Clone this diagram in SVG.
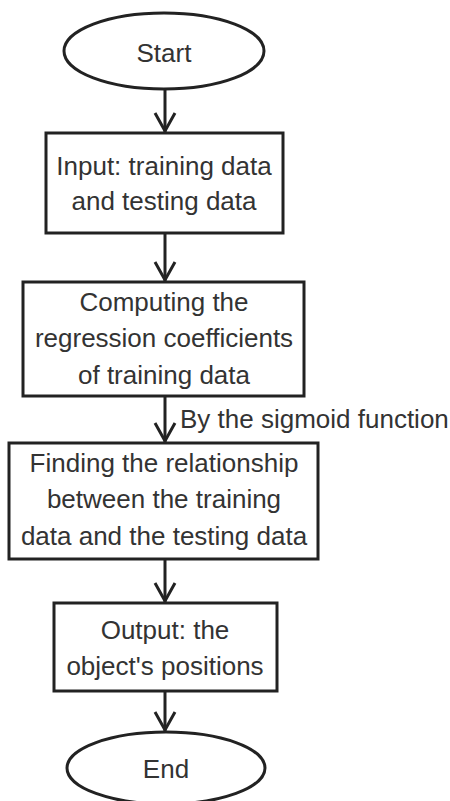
<svg xmlns="http://www.w3.org/2000/svg" width="450" height="801" viewBox="0 0 450 801">
<defs>
<style>
.n{fill:#fff;stroke:#222;stroke-width:3}
.t{font-family:"Liberation Sans",Arial,sans-serif;font-size:26px;fill:#333;text-anchor:middle}
.l{font-family:"Liberation Sans",Arial,sans-serif;font-size:26px;fill:#333}
.c{stroke:#222;stroke-width:3;fill:none}
</style>
</defs>
<rect width="450" height="801" fill="#fff"/>
<g id="connectors">
<path class="c" d="M165,89 V132"/>
<path class="c" d="M155,113 L165,131 L175,113"/>
<path class="c" d="M165,233 V281"/>
<path class="c" d="M155,262 L165,280 L175,262"/>
<path class="c" d="M165,396 V442"/>
<path class="c" d="M155,423 L165,441 L175,423"/>
<path class="c" d="M165,559 V602"/>
<path class="c" d="M155,583 L165,601 L175,583"/>
<path class="c" d="M165,691 V731"/>
<path class="c" d="M155,712 L165,730 L175,712"/>
<text class="l" x="180" y="428">By the sigmoid function</text>
</g>
<g id="start">
<ellipse class="n" cx="164" cy="51" rx="100" ry="38"/>
<text class="t" x="164" y="62">Start</text>
</g>
<g id="input">
<rect class="n" x="46" y="133" width="237" height="100"/>
<text class="t" x="164" y="175">Input: training data</text>
<text class="t" x="164" y="210">and testing data</text>
</g>
<g id="compute">
<rect class="n" x="23" y="282" width="281" height="114"/>
<text class="t" x="164" y="311">Computing the</text>
<text class="t" x="164" y="347">regression coefficients</text>
<text class="t" x="164" y="384">of training data</text>
</g>
<g id="find">
<rect class="n" x="9" y="443" width="309" height="116"/>
<text class="t" x="164" y="472">Finding the relationship</text>
<text class="t" x="164" y="508">between the training</text>
<text class="t" x="164" y="545">data and the testing data</text>
</g>
<g id="output">
<rect class="n" x="54" y="603" width="223" height="88"/>
<text class="t" x="165" y="639">Output: the</text>
<text class="t" x="165" y="675">object's positions</text>
</g>
<g id="end">
<ellipse class="n" cx="166" cy="768" rx="99" ry="36"/>
<text class="t" x="166" y="778">End</text>
</g>
</svg>
